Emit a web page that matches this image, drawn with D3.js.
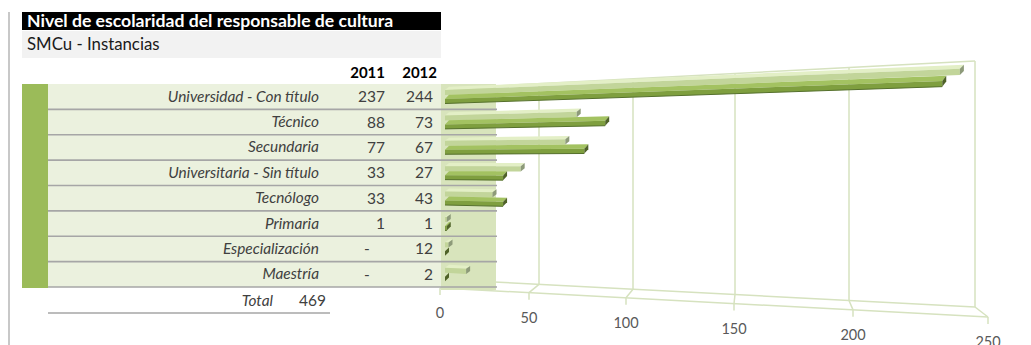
<!DOCTYPE html>
<html lang="es">
<head>
<meta charset="utf-8">
<title>Nivel de escolaridad del responsable de cultura</title>
<style>
  body { margin: 0; background: #fff; }
  svg { display: block; font-family: Lato, "Liberation Sans", sans-serif; }
</style>
</head>
<body>
<script src="https://d3js.org/d3.v7.min.js"></script>
<script>
  // datos de la tabla
  const categorias = ["Universidad - Con título", "Técnico", "Secundaria",
    "Universitaria - Sin título", "Tecnólogo", "Primaria", "Especialización", "Maestría"];
  const anios = ["2011", "2012"];
  const tabla2011 = [237, 88, 77, 33, 33, 1, null, null];
  const tabla2012 = [244, 73, 67, 27, 43, 1, 12, 2];
  const total = 469;

  // largos de barras tal como aparecen en el grafico original
  const barras2011 = [237, 88, 77, 33, 33, 1, 0, 0];
  const barras2012 = [244, 73, 67, 43, 27, 1, 2, 12];

  const ticksEje = [0, 50, 100, 150, 200, 250];

  const width = 1031, height = 345;

  const svg = d3.select("body").append("svg")
      .attr("width", width)
      .attr("height", height);

  // --- escalas (perspectiva aproximada del grafico 3D) ---
  const xBarra = d3.scaleLinear().domain(ticksEje).range([445, 533, 628, 733, 849, 975]);
  const xPared = d3.scaleLinear().domain(ticksEje).range([445, 539, 633, 735, 849, 975]);
  const xPiso = d3.scaleLinear().domain(ticksEje).range([440, 529, 626, 734, 853, 988]);

  const y = d3.scaleBand().domain(categorias).range([84, 287]);

  const paredArriba = x => 61 + (975 - x) * 0.052;
  const pisoAtras = x => 307 - (975 - x) * 0.052;
  const pisoFrente = x => 317 - (988 - x) * 0.053;
  // y de un punto de barra (yl = altura en el extremo izquierdo) a la x dada
  const yPersp = (yl, x) => yl + (x - 445) * (yl - 164) * 0.00056;

  // --- tabla ---
  svg.append("rect").attr("x", 8).attr("y", 12).attr("width", 2).attr("height", height - 12)
      .attr("fill", "#c8c8c8");

  svg.append("rect").attr("x", 22).attr("y", 12).attr("width", 419).attr("height", 18)
      .attr("fill", "#000");
  svg.append("text").attr("x", 27).attr("y", 27)
      .attr("fill", "#fff").style("font-weight", "bold").style("font-size", "17.6px")
      .text("Nivel de escolaridad del responsable de cultura");

  svg.append("rect").attr("x", 22).attr("y", 31).attr("width", 419).attr("height", 27)
      .attr("fill", "#f2f2f2");
  svg.append("text").attr("x", 27).attr("y", 50)
      .attr("fill", "#1a1a1a").style("font-size", "16.8px")
      .text("SMCu - Instancias");

  svg.selectAll(".anio")
      .data(anios)
      .enter().append("text")
      .attr("class", "anio")
      .attr("x", (d, i) => i === 0 ? 385 : 437)
      .attr("y", 77.5)
      .attr("text-anchor", "end")
      .style("font-weight", "bold").style("font-size", "15px")
      .text(d => d);

  // fondo de filas
  svg.append("rect").attr("x", 48).attr("y", 84).attr("width", 393).attr("height", 203)
      .attr("fill", "#ebf1de");
  svg.append("rect").attr("x", 22).attr("y", 84).attr("width", 26).attr("height", 204)
      .attr("fill", "#9bbb59");

  // --- grafico: paredes, piso y grilla ---
  const grid = svg.append("g")
      .attr("stroke", "#d6e2bf")
      .attr("stroke-width", 1.5)
      .attr("fill", "none");

  grid.append("line")
      .attr("x1", 496).attr("y1", paredArriba(496))
      .attr("x2", xPared(250)).attr("y2", paredArriba(xPared(250)));

  grid.selectAll(".vgrid")
      .data(ticksEje.slice(1))
      .enter().append("line")
      .attr("class", "vgrid")
      .attr("x1", d => xPared(d)).attr("y1", d => paredArriba(xPared(d)))
      .attr("x2", d => xPared(d)).attr("y2", d => pisoAtras(xPared(d)));

  grid.append("line")
      .attr("x1", 494).attr("y1", pisoAtras(494))
      .attr("x2", xPared(250)).attr("y2", pisoAtras(xPared(250)));
  grid.append("line")
      .attr("x1", xPiso(0)).attr("y1", pisoFrente(xPiso(0)))
      .attr("x2", xPiso(250)).attr("y2", pisoFrente(xPiso(250)));

  grid.selectAll(".union")
      .data(ticksEje.slice(1))
      .enter().append("line")
      .attr("class", "union")
      .attr("x1", d => xPared(d)).attr("y1", d => pisoAtras(xPared(d)))
      .attr("x2", d => xPiso(d)).attr("y2", d => pisoFrente(xPiso(d)));

  grid.selectAll(".tick")
      .data(ticksEje)
      .enter().append("line")
      .attr("class", "tick")
      .attr("x1", d => xPiso(d)).attr("y1", d => pisoFrente(xPiso(d)))
      .attr("x2", d => xPiso(d)).attr("y2", d => pisoFrente(xPiso(d)) + 7);

  svg.selectAll(".etiqueta-eje")
      .data(ticksEje)
      .enter().append("text")
      .attr("class", "etiqueta-eje")
      .attr("x", d => xPiso(d))
      .attr("y", d => pisoFrente(xPiso(d)) + 30)
      .attr("text-anchor", "middle")
      .attr("fill", "#595959")
      .style("font-size", "14.5px")
      .text(d => d);

  // franja verde detras del inicio de las barras
  svg.append("rect").attr("x", 441).attr("y", 84).attr("width", 55).attr("height", 206)
      .attr("fill", "#d8e4bc");

  // separadores de filas
  svg.selectAll(".sep")
      .data(categorias)
      .enter().append("line")
      .attr("class", "sep")
      .attr("x1", 48).attr("x2", 497)
      .attr("y1", d => y(d) + y.bandwidth())
      .attr("y2", d => y(d) + y.bandwidth())
      .attr("stroke", "#a6a6a6")
      .attr("stroke-width", 1.6);

  // textos de filas
  svg.selectAll(".cat")
      .data(categorias)
      .enter().append("text")
      .attr("class", "cat")
      .attr("x", 319)
      .attr("y", d => y(d) + y.bandwidth() / 2 + 5)
      .attr("text-anchor", "end")
      .attr("fill", "#404040")
      .style("font-style", "italic").style("font-size", "15.4px")
      .text(d => d);

  svg.selectAll(".v2011")
      .data(tabla2011)
      .enter().append("text")
      .attr("class", "v2011")
      .attr("x", d => d === null ? 367 : 385)
      .attr("y", (d, i) => y(categorias[i]) + y.bandwidth() / 2 + 5.5)
      .attr("text-anchor", d => d === null ? "middle" : "end")
      .attr("fill", "#404040")
      .style("font-size", "15.5px")
      .text(d => d === null ? "-" : d);

  svg.selectAll(".v2012")
      .data(tabla2012)
      .enter().append("text")
      .attr("class", "v2012")
      .attr("x", 433)
      .attr("y", (d, i) => y(categorias[i]) + y.bandwidth() / 2 + 5.5)
      .attr("text-anchor", "end")
      .attr("fill", "#404040")
      .style("font-size", "15.5px")
      .text(d => d);

  // total
  svg.append("text").attr("x", 273).attr("y", 306)
      .attr("text-anchor", "end").attr("fill", "#404040")
      .style("font-style", "italic").style("font-size", "15.4px")
      .text("Total");
  svg.append("text").attr("x", 326).attr("y", 306)
      .attr("text-anchor", "end").attr("fill", "#404040")
      .style("font-size", "15.5px")
      .text(total);
  svg.append("line").attr("x1", 48).attr("x2", 330).attr("y1", 313).attr("y2", 313)
      .attr("stroke", "#a6a6a6").attr("stroke-width", 1.6);

  // --- barras 3D ---
  function barra(g, v, a, b, dt, dx, colores) {
    const x0 = xBarra(0), x1 = xBarra(v);
    const p = (x, yl) => [x, yPersp(yl, x)].join(",");
    g.append("polygon")
        .attr("points", [p(x0, a + dt), p(x1, a + dt), p(x1 + dx, a), p(x0 + dx, a)].join(" "))
        .attr("fill", colores.arriba);
    g.append("polygon")
        .attr("points", [p(x0, a + dt), p(x1, a + dt), p(x1, b), p(x0, b)].join(" "))
        .attr("fill", colores.frente);
    g.append("polygon")
        .attr("points", [p(x1, a + dt), p(x1 + dx, a), p(x1 + dx, b - dt), p(x1, b)].join(" "))
        .attr("fill", colores.lado);
    if (colores.sombra) {
      g.append("line")
          .attr("x1", x0).attr("y1", yPersp(b, x0))
          .attr("x2", x1).attr("y2", yPersp(b, x1))
          .attr("stroke", colores.sombra).attr("stroke-width", 1);
    }
  }

  const claro = {arriba: "#e3efc6", frente: "#c2d59a", lado: "#8d9a79"};
  const oscuro = {arriba: "#a3c261", frente: "#7f9f3f", lado: "#4f6228", sombra: "#55702c"};

  const gBarras = svg.append("g");
  categorias.forEach((c, i) => {
    barra(gBarras, barras2012[i], y(c) + 3, y(c) + 11, 3, 4, claro);
  });
  categorias.forEach((c, i) => {
    barra(gBarras, barras2011[i], y(c) + 11, y(c) + 19.5, 4, 4, oscuro);
  });
</script>
</body>
</html>
